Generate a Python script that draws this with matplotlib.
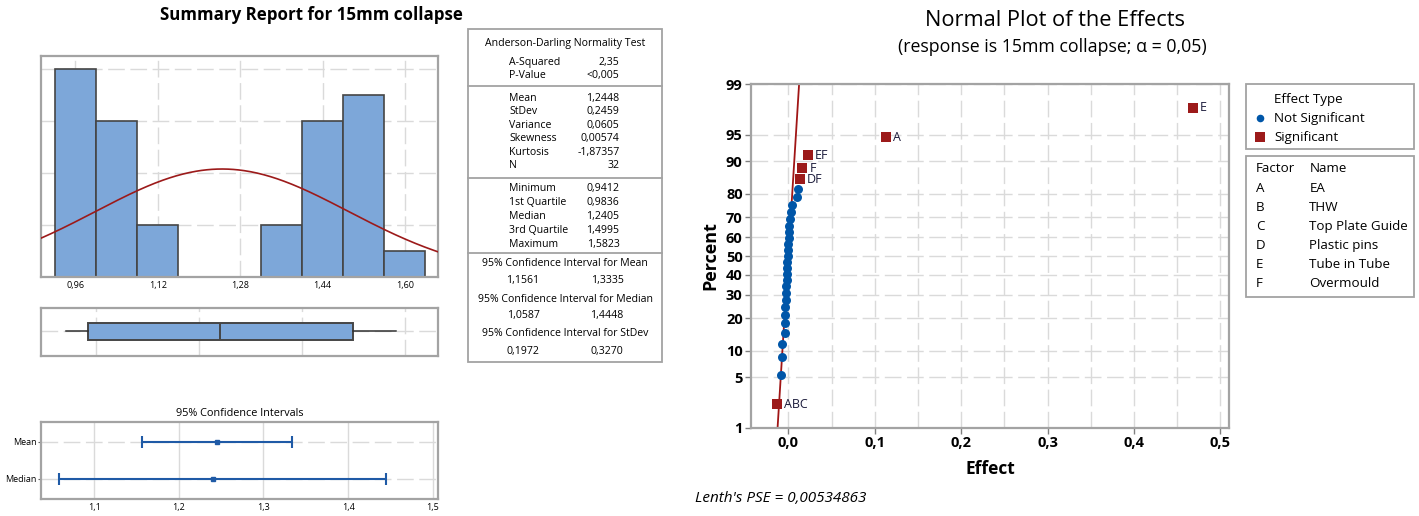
"""Minitab style summary report and normal plot of effects for 15mm collapse."""
from statistics import NormalDist

import matplotlib
matplotlib.use("Agg")
import matplotlib.pyplot as plt
import numpy as np
from matplotlib.patches import Rectangle
from matplotlib.ticker import FixedLocator, FuncFormatter

plt.rcParams["font.family"] = ["Open Sans", "DejaVu Sans"]

# ---- summary report data ----
bin_edges = [0.92, 1.00, 1.08, 1.16, 1.24, 1.32, 1.40, 1.48, 1.56, 1.64]
bin_counts = [8, 6, 2, 0, 0, 2, 6, 7, 1]
n_obs = 32
mean, stdev = 1.2448, 0.2459
variance, skewness, kurtosis = 0.0605, 0.00574, -1.87357
a_squared, p_value = "2,35", "<0,005"
q_min, q1, median, q3, q_max = 0.9412, 0.9836, 1.2405, 1.4995, 1.5823
ci_mean = (1.1561, 1.3335)
ci_median = (1.0587, 1.4448)
ci_stdev = (0.1972, 0.3270)
hist_ticks = [0.96, 1.12, 1.28, 1.44, 1.60]
ci_ticks = [1.1, 1.2, 1.3, 1.4, 1.5]

# ---- normal plot of effects data ----
sig_terms = ["ABC", "DF", "F", "EF", "A", "E"]
sig_effects = [-0.0134, 0.0135, 0.0162, 0.0228, 0.1127, 0.4680]
ns_effects = [-0.0090, -0.0078, -0.0076, -0.0040, -0.0038, -0.0036, -0.0033,
              -0.0030, -0.0027, -0.0024, -0.0021, -0.0018, -0.0015, -0.0012,
              -0.0009, -0.0005, -0.0001, 0.0003, 0.0007, 0.0012, 0.0018,
              0.0026, 0.0042, 0.0104, 0.0116]
lenth_pse = 0.00534863
pct_ticks = [1, 5, 10, 20, 30, 40, 50, 60, 70, 80, 90, 95, 99]
factors = ["A", "B", "C", "D", "E", "F"]
factor_names = ["EA", "THW", "Top Plate Guide", "Plastic pins", "Tube in Tube", "Overmould"]

BLUE = "#7da7d9"
RED = "#9c1a1a"
DOT = "#0056a8"
SPINE = "#a3a3a3"
GRID = "#dadada"
W, H = 1419, 516


def comma(fmt):
    return FuncFormatter(lambda v, p: fmt.format(v).replace(".", ","))


def c(v, fmt="{:.4f}"):
    return fmt.format(v).replace(".", ",")


def frame(ax):
    for s in ax.spines.values():
        s.set_color(SPINE)
        s.set_linewidth(1.6)


def box(x0, y0, x1, y1):
    return [x0 / W, 1 - y1 / H, (x1 - x0) / W, (y1 - y0) / H]


fig = plt.figure(figsize=(W / 100, H / 100), dpi=100)
dash = dict(color=GRID, linewidth=1, linestyle=(0, (12, 4)))

# histogram
ax_h = fig.add_axes(box(40.7, 56, 438, 277))
widths = np.diff(bin_edges)
ax_h.bar(bin_edges[:-1], bin_counts, width=widths, align="edge", color=BLUE,
         edgecolor="#454545", linewidth=1.2, zorder=2)
xlim_h = (0.8925, 1.6644)
xs = np.linspace(*xlim_h, 300)
pdf = n_obs * widths[0] * np.exp(-0.5 * ((xs - mean) / stdev) ** 2) / (stdev * np.sqrt(2 * np.pi))
ax_h.plot(xs, pdf, color=RED, linewidth=1.2, zorder=3)
ax_h.set_xlim(*xlim_h)
ax_h.set_ylim(0, 8.5)
ax_h.set_xticks(hist_ticks)
ax_h.xaxis.set_major_formatter(comma("{:.2f}"))
ax_h.set_yticks([2, 4, 6, 8])
ax_h.set_yticklabels([])
ax_h.tick_params(length=0, labelsize=6.5, pad=3)
ax_h.grid(True, zorder=0, **dash)
ax_h.set_axisbelow(True)
frame(ax_h)

# boxplot
ax_b = fig.add_axes(box(40.7, 308.3, 438, 355.7))
bp = ax_b.bxp([{"med": median, "q1": q1, "q3": q3, "whislo": q_min,
                "whishi": q_max, "fliers": []}],
              positions=[0.515], widths=0.37, orientation="horizontal",
              patch_artist=True, showcaps=False, showfliers=False)
for b in bp["boxes"]:
    b.set(facecolor=BLUE, edgecolor="#454545", linewidth=1.4)
for m in bp["medians"]:
    m.set(color="#454545", linewidth=1.4)
for wl in bp["whiskers"]:
    wl.set(color="#303030", linewidth=1.1)
ax_b.set_xlim(*xlim_h)
ax_b.set_ylim(0, 1)
ax_b.set_xticks([1.0, 1.2, 1.4, 1.6])
ax_b.set_yticks([0.515])
ax_b.tick_params(length=0, labelbottom=False, labelleft=False)
ax_b.grid(True, color=GRID, linewidth=1, linestyle=(0, (12, 4)))
ax_b.set_axisbelow(True)
frame(ax_b)

# confidence intervals
ax_c = fig.add_axes(box(40.7, 421.7, 438, 499))
for yv, centre, (lo, hi) in [(1, mean, ci_mean), (0, median, ci_median)]:
    ax_c.errorbar(centre, yv, xerr=[[centre - lo], [hi - centre]], fmt="s",
                  ms=3.5, color="#1f5aa6", ecolor="#1f5aa6", elinewidth=1.5,
                  capsize=4.5, capthick=1.5, zorder=3)
ax_c.set_xlim(1.0366, 1.5063)
ax_c.set_ylim(-0.54, 1.54)
ax_c.set_xticks(ci_ticks)
ax_c.xaxis.set_major_formatter(comma("{:.1f}"))
ax_c.set_yticks([0, 1])
ax_c.set_yticklabels(["Median", "Mean"])
ax_c.tick_params(axis="x", length=0, labelsize=6.5, pad=3)
ax_c.tick_params(axis="y", length=2, labelsize=6.5, pad=1, color="#606060")
ax_c.grid(True, axis="x", color=GRID, linewidth=1)
ax_c.grid(True, axis="y", **dash)
ax_c.set_axisbelow(True)
ax_c.set_title("95% Confidence Intervals", fontsize=7.8, pad=4)
frame(ax_c)

# normal plot of effects
nd = NormalDist()
all_eff = np.array(ns_effects + sig_effects)
order = np.argsort(all_eff)
n_eff = len(all_eff)
ranks = np.empty(n_eff, dtype=int)
ranks[order] = np.arange(1, n_eff + 1)
z_all = np.array([nd.inv_cdf((r - 0.3) / (n_eff + 0.4)) for r in ranks])
z_ns = z_all[:len(ns_effects)]
z_sig = z_all[len(ns_effects):]

ax_n = fig.add_axes(box(751, 84.3, 1229, 427.7))
zlim = (nd.inv_cdf(0.01), nd.inv_cdf(0.99))
zl = np.linspace(*zlim, 50)
ax_n.plot(lenth_pse * zl, zl, color="#a01515", linewidth=1.3, zorder=2)
ax_n.scatter(ns_effects, z_ns, s=42, marker="o", color=DOT, zorder=3, linewidths=0)
ax_n.scatter(sig_effects, z_sig, s=50, marker="s", color=RED, zorder=3, linewidths=0)
for term, xv, zv in zip(sig_terms, sig_effects, z_sig):
    ax_n.annotate(term, (xv, zv), xytext=(5, 0), textcoords="offset points",
                  fontsize=9, va="center", color="#1a1a3a")
ax_n.set_xlim(-0.0432, 0.51)
ax_n.set_ylim(*zlim)
ax_n.xaxis.set_major_locator(FixedLocator([0.0, 0.1, 0.2, 0.3, 0.4, 0.5]))
ax_n.xaxis.set_minor_locator(FixedLocator([0.05, 0.15, 0.25, 0.35, 0.45]))
ax_n.xaxis.set_major_formatter(comma("{:.1f}"))
ax_n.set_yticks([nd.inv_cdf(p / 100) for p in pct_ticks])
ax_n.set_yticklabels([str(p) for p in pct_ticks])
ax_n.tick_params(which="major", length=4, width=1, color="#808080",
                 labelsize=10.5, pad=2)
ax_n.tick_params(which="minor", length=0)
for lab in ax_n.get_xticklabels() + ax_n.get_yticklabels():
    lab.set_fontweight("bold")
ax_n.grid(True, which="both", axis="x", **dash)
ax_n.grid(True, which="major", axis="y", **dash)
ax_n.set_axisbelow(True)
ax_n.set_xlabel("Effect", fontsize=12.5, fontweight="bold", labelpad=7)
ax_n.set_ylabel("Percent", fontsize=13, fontweight="bold", labelpad=5)
frame(ax_n)

# overlay for titles, table and legends (pixel coordinates)
ov = fig.add_axes([0, 0, 1, 1])
ov.set_xlim(0, W)
ov.set_ylim(H, 0)
ov.axis("off")
ov.text(311, 15, "Summary Report for 15mm collapse", fontsize=12.2,
        fontweight="bold", ha="center", va="center")
ov.text(1055, 20, "Normal Plot of the Effects", fontsize=15.7, ha="center",
        va="center", fontweight="medium")
ov.text(1052, 47, "(response is 15mm collapse; \u03b1 = 0,05)", fontsize=12.8,
        ha="center", va="center")
ov.text(695, 498, f"Lenth's PSE = {c(lenth_pse, '{}')}", fontsize=11,
        style="italic", va="center")

# summary table
tx0, tx1 = 468.3, 662
ov.add_patch(Rectangle((tx0, 29.3), tx1 - tx0, 361.7 - 29.3, fill=False,
                       edgecolor=SPINE, linewidth=1.3))
for ys in [85.7, 177.7, 252.7]:
    ov.plot([tx0, tx1], [ys, ys], color=SPINE, linewidth=1.3)
tmid = (tx0 + tx1) / 2
fs = 7.6
ov.text(tmid, 43.3, "Anderson-Darling Normality Test", fontsize=fs, ha="center", va="center")
rows = [("A-Squared", a_squared, 62.3), ("P-Value", p_value, 75.7),
        ("Mean", c(mean), 98.3), ("StDev", c(stdev), 111.8),
        ("Variance", c(variance), 125.3), ("Skewness", c(skewness, "{:.5f}"), 138.8),
        ("Kurtosis", c(kurtosis, "{:.5f}"), 152.3), ("N", str(n_obs), 165.8),
        ("Minimum", c(q_min), 188.3), ("1st Quartile", c(q1), 202.3),
        ("Median", c(median), 216.3), ("3rd Quartile", c(q3), 230.3),
        ("Maximum", c(q_max), 244.3)]
for lab, val, yy in rows:
    ov.text(509, yy, lab, fontsize=fs, va="center")
    ov.text(619.5, yy, val, fontsize=fs, va="center", ha="right")
ci_rows = [("95% Confidence Interval for Mean", ci_mean, 263.3, 280),
           ("95% Confidence Interval for Median", ci_median, 299.3, 315.7),
           ("95% Confidence Interval for StDev", ci_stdev, 334, 351.7)]
for lab, (lo, hi), yh, yv in ci_rows:
    ov.text(tmid, yh, lab, fontsize=fs, ha="center", va="center")
    ov.text(523, yv, c(lo), fontsize=fs, ha="center", va="center")
    ov.text(607, yv, c(hi), fontsize=fs, ha="center", va="center")

# legends
lfs = 9.6
lx0, lx1 = 1246, 1414.3
ov.add_patch(Rectangle((lx0, 84.3), lx1 - lx0, 149.3 - 84.3, fill=False,
                       edgecolor=SPINE, linewidth=1.3))
ov.text(1274.3, 99.3, "Effect Type", fontsize=lfs, va="center")
ov.scatter([1260], [118.3], s=30, marker="o", color=DOT, linewidths=0)
ov.text(1274.3, 118.3, "Not Significant", fontsize=lfs, va="center")
ov.scatter([1260], [137.3], s=44, marker="s", color=RED, linewidths=0)
ov.text(1274.3, 137.3, "Significant", fontsize=lfs, va="center")

ov.add_patch(Rectangle((lx0, 155.7), lx1 - lx0, 296.7 - 155.7, fill=False,
                       edgecolor=SPINE, linewidth=1.3))
ov.text(1255.7, 168.3, "Factor", fontsize=lfs, va="center")
ov.text(1309.3, 168.3, "Name", fontsize=lfs, va="center")
for i, (f, nm) in enumerate(zip(factors, factor_names)):
    yy = 188.3 + i * 19.1
    ov.text(1255.7, yy, f, fontsize=lfs, va="center")
    ov.text(1309.3, yy, nm, fontsize=lfs, va="center")

fig.savefig("out.png", dpi=100)
